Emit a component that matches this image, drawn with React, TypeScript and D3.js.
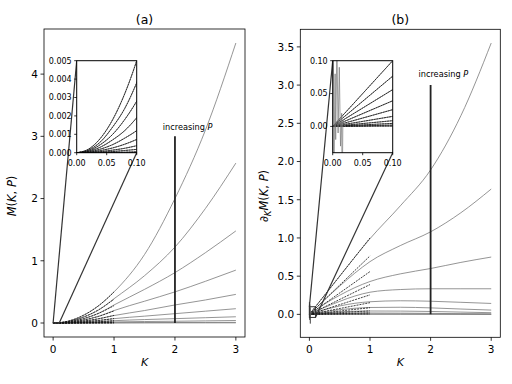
import React from "react";
import * as d3 from "d3";

const FONT = "'DejaVu Sans', sans-serif";

// ticks
const kTicks = [0, 1, 2, 3];
const yTicksA = [0, 1, 2, 3, 4];
const yTicksB = [0, 0.5, 1, 1.5, 2, 2.5, 3, 3.5];
const insetXTicks = [0, 0.05, 0.1];
const insetYTicksA = [0, 0.001, 0.002, 0.003, 0.004, 0.005];
const insetYTicksB = [0, 0.05, 0.1];

// (a) M(K,P) — grey curves
const kGreyA = [0, 0.1, 0.25, 0.5, 0.75, 1, 1.5, 2, 2.5, 3];
const greyA1 = [0, 0.005, 0.031, 0.125, 0.28, 0.5, 1.1, 2.0, 3.1, 4.5];
const greyA2 = [0, 0.0038, 0.024, 0.095, 0.21, 0.39, 0.76, 1.22, 1.84, 2.57];
const greyA3 = [0, 0.0028, 0.0175, 0.07, 0.157, 0.29, 0.54, 0.81, 1.13, 1.48];
const greyA4 = [0, 0.0019, 0.012, 0.047, 0.107, 0.2, 0.35, 0.5, 0.67, 0.85];
const greyA5 = [0, 0.0012, 0.0075, 0.03, 0.068, 0.12, 0.2, 0.29, 0.37, 0.46];
const greyA6 = [0, 0.0007, 0.0045, 0.018, 0.04, 0.07, 0.11, 0.15, 0.19, 0.23];
const greyA7 = [0, 0.0004, 0.0024, 0.0095, 0.021, 0.037, 0.055, 0.07, 0.085, 0.1];
const greyA8 = [0, 0.00018, 0.0011, 0.0045, 0.01, 0.017, 0.024, 0.028, 0.034, 0.04];
const greyA9 = [0, 0.00005, 0.0003, 0.0012, 0.0028, 0.005, 0.007, 0.008, 0.009, 0.01];
const greyA10 = [0, 0.00001, 0.00006, 0.00025, 0.0006, 0.001, 0.0015, 0.002, 0.0025, 0.003];
const greyA = [greyA1, greyA2, greyA3, greyA4, greyA5, greyA6, greyA7, greyA8, greyA9, greyA10];

// (a) small-K approximations (dashed, up to K = 1)
const kDashA = [0, 0.02, 0.04, 0.06, 0.08, 0.1, 0.25, 0.5, 0.75, 1];
const dashA1 = [0, 0.0002, 0.0008, 0.0018, 0.0032, 0.005, 0.031, 0.125, 0.281, 0.5];
const dashA2 = [0, 0.00015, 0.0006, 0.0014, 0.0024, 0.0038, 0.024, 0.096, 0.215, 0.382];
const dashA3 = [0, 0.00011, 0.00045, 0.001, 0.0018, 0.0028, 0.0174, 0.07, 0.157, 0.279];
const dashA4 = [0, 0.00008, 0.00031, 0.0007, 0.0012, 0.0019, 0.0121, 0.0485, 0.109, 0.194];
const dashA5 = [0, 0.00005, 0.0002, 0.00044, 0.00079, 0.0012, 0.0077, 0.031, 0.069, 0.123];
const dashA6 = [0, 0.00003, 0.00012, 0.00026, 0.00046, 0.00072, 0.0045, 0.018, 0.041, 0.072];
const dashA7 = [0, 0.000015, 0.00006, 0.00014, 0.00024, 0.00038, 0.0024, 0.0095, 0.021, 0.038];
const dashA8 = [0, 0.000007, 0.00003, 0.000065, 0.00012, 0.00018, 0.0011, 0.0045, 0.01, 0.018];
const dashA9 = [0, 0.000002, 0.000008, 0.000018, 0.00003, 0.00005, 0.0003, 0.0012, 0.0028, 0.005];
const dashA10 = [0, 0, 0.000002, 0.000004, 0.000006, 0.00001, 0.00006, 0.00025, 0.00056, 0.001];
const dashA = [dashA1, dashA2, dashA3, dashA4, dashA5, dashA6, dashA7, dashA8, dashA9, dashA10];

// (b) d_K M(K,P) — grey curves
const kGreyB = [0, 0.1, 0.25, 0.5, 0.75, 1, 1.5, 2, 2.5, 3];
const greyB1 = [0, 0.1, 0.25, 0.5, 0.75, 0.99, 1.42, 1.89, 2.6, 3.55];
const greyB2 = [0, 0.076, 0.19, 0.37, 0.54, 0.69, 0.9, 1.08, 1.33, 1.64];
const greyB3 = [0, 0.055, 0.135, 0.25, 0.35, 0.43, 0.53, 0.6, 0.68, 0.75];
const greyB4 = [0, 0.038, 0.09, 0.17, 0.24, 0.29, 0.325, 0.335, 0.335, 0.335];
const greyB5 = [0, 0.025, 0.06, 0.11, 0.145, 0.165, 0.178, 0.172, 0.158, 0.143];
const greyB6 = [0, 0.015, 0.035, 0.062, 0.08, 0.09, 0.093, 0.085, 0.07, 0.056];
const greyB7 = [0, 0.0087, 0.02, 0.034, 0.041, 0.044, 0.043, 0.038, 0.03, 0.022];
const greyB8 = [0, 0.0046, 0.01, 0.015, 0.017, 0.018, 0.016, 0.013, 0.009, 0.006];
const greyB9 = [0, 0.002, 0.004, 0.005, 0.0055, 0.0055, 0.005, 0.004, 0.003, 0.002];
const greyB10 = [0, 0.0005, 0.001, 0.0012, 0.0013, 0.0013, 0.0012, 0.001, 0.0008, 0.0005];
const greyB = [greyB1, greyB2, greyB3, greyB4, greyB5, greyB6, greyB7, greyB8, greyB9, greyB10];

// (b) linear small-K approximations: value at K = 0 and K = 1
const kDashB = [0, 1];
const dashEndB = [1.0, 0.765, 0.56, 0.39, 0.255, 0.153, 0.087, 0.046, 0.02, 0.005];

// (b) numerical noise near K = 0
const kNoiseB = [0, 0.001, 0.002, 0.004, 0.005, 0.007, 0.009, 0.011, 0.013, 0.015, 0.0157, 0.017, 0.02];
const vNoiseB = [0, 0.16, -0.07, 0.08, -0.02, 0.13, -0.01, 0.09, -0.03, 0.02, -0.12, 0.01, 0];

type Box = { l: number; r: number; t: number; b: number };

type PanelProps = {
  id: string;
  title: string;
  box: Box;
  yDomain: [number, number];
  yTicks: number[];
  yFmt: (v: number) => string;
  ylabel: React.ReactNode;
  ylabelX: number;
  ylabelY: number;
  kGrey: number[];
  grey: number[][];
  kDash: number[];
  dashed: number[][];
  inset: Box;
  insetY: [number, number];
  insetYTicks: number[];
  insetYFmt: (v: number) => string;
  noise?: { k: number[]; v: number[] };
};

function Panel(p: PanelProps) {
  const x = d3.scaleLinear().domain([-0.15, 3.15]).range([p.box.l, p.box.r]);
  const y = d3.scaleLinear().domain(p.yDomain).range([p.box.b, p.box.t]);
  const ix = d3.scaleLinear().domain([0, 0.1]).range([p.inset.l, p.inset.r]);
  const iy = d3.scaleLinear().domain(p.insetY).range([p.inset.b, p.inset.t]);

  const mk = (sx: d3.ScaleLinear<number, number>, sy: d3.ScaleLinear<number, number>) =>
    d3
      .line<[number, number]>()
      .x((d) => sx(d[0]))
      .y((d) => sy(d[1]))
      .curve(d3.curveMonotoneX);
  const mainLine = mk(x, y);
  const insetLine = mk(ix, iy);
  const pts = (ks: number[], vs: number[]) => ks.map((k, i) => [k, vs[i]] as [number, number]);

  const clipMain = `clip-${p.id}`;
  const clipInset = `clipi-${p.id}`;
  const cx = (p.box.l + p.box.r) / 2;

  // zoomed region corners in main coordinates
  const rx0 = x(0), rx1 = x(0.1);
  const ry0 = y(p.insetY[1]), ry1 = y(p.insetY[0]);

  return (
    <g>
      <defs>
        <clipPath id={clipMain}>
          <rect x={p.box.l} y={p.box.t} width={p.box.r - p.box.l} height={p.box.b - p.box.t} />
        </clipPath>
        <clipPath id={clipInset}>
          <rect x={p.inset.l} y={p.inset.t} width={p.inset.r - p.inset.l} height={p.inset.b - p.inset.t} />
        </clipPath>
      </defs>

      <text x={cx} y={24} textAnchor="middle" fontSize={12.5}>
        {p.title}
      </text>

      <g clipPath={`url(#${clipMain})`}>
        {p.grey.map((vs, i) => (
          <path key={"g" + i} d={mainLine(pts(p.kGrey, vs)) || ""} fill="none" stroke="#7a7a7a" strokeWidth={0.8} />
        ))}
        {p.dashed.map((vs, i) => (
          <path
            key={"d" + i}
            d={mainLine(pts(p.kDash, vs)) || ""}
            fill="none"
            stroke="#111"
            strokeWidth={0.8}
            strokeDasharray="2,1"
          />
        ))}
        {p.noise && (
          <path d={d3.line<[number, number]>().x((d) => x(d[0])).y((d) => y(d[1]))(pts(p.noise.k, p.noise.v)) || ""} fill="none" stroke="#555" strokeWidth={0.8} />
        )}
        <line x1={x(2)} x2={x(2)} y1={y(0)} y2={y(3)} stroke="#222" strokeWidth={1.8} />
        <text x={x(1.8)} y={y(3.1)} fontSize={8.2}>
          increasing <tspan fontStyle="italic">P</tspan>
        </text>
        <rect x={rx0} y={ry0} width={rx1 - rx0} height={Math.max(ry1 - ry0, 0.5)} fill="none" stroke="#333" strokeWidth={1} />
        <line x1={rx0} y1={ry0} x2={p.inset.l} y2={p.inset.t} stroke="#333" strokeWidth={1.2} />
        <line x1={rx1} y1={ry1} x2={p.inset.r} y2={p.inset.b} stroke="#333" strokeWidth={1.2} />
      </g>

      {/* main spines */}
      <rect x={p.box.l} y={p.box.t} width={p.box.r - p.box.l} height={p.box.b - p.box.t} fill="none" stroke="#000" strokeWidth={0.8} />

      {/* main x axis */}
      {kTicks.map((t) => (
        <g key={"xt" + t}>
          <line x1={x(t)} x2={x(t)} y1={p.box.b} y2={p.box.b + 3.5} stroke="#000" strokeWidth={0.8} />
          <text x={x(t)} y={p.box.b + 15.5} textAnchor="middle" fontSize={10.5}>
            {t}
          </text>
        </g>
      ))}
      <text x={cx} y={p.box.b + 29} textAnchor="middle" fontSize={11} fontStyle="italic">
        K
      </text>

      {/* main y axis */}
      {p.yTicks.map((t) => (
        <g key={"yt" + t}>
          <line x1={p.box.l - 3.5} x2={p.box.l} y1={y(t)} y2={y(t)} stroke="#000" strokeWidth={0.8} />
          <text x={p.box.l - 6} y={y(t)} dy="0.36em" textAnchor="end" fontSize={10.5}>
            {p.yFmt(t)}
          </text>
        </g>
      ))}
      <text transform={`translate(${p.ylabelX},${p.ylabelY}) rotate(-90)`} textAnchor="middle" fontSize={11.5}>
        {p.ylabel}
      </text>

      {/* inset */}
      <rect x={p.inset.l} y={p.inset.t} width={p.inset.r - p.inset.l} height={p.inset.b - p.inset.t} fill="#fff" />
      <g clipPath={`url(#${clipInset})`}>
        {p.dashed.map((vs, i) => (
          <path key={"ig" + i} d={insetLine(pts(p.kDash, vs)) || ""} fill="none" stroke="#7a7a7a" strokeWidth={0.8} />
        ))}
        {p.dashed.map((vs, i) => (
          <path key={"id" + i} d={insetLine(pts(p.kDash, vs)) || ""} fill="none" stroke="#111" strokeWidth={0.8} strokeDasharray="2,0.6" />
        ))}
        {p.noise && (
          <path d={d3.line<[number, number]>().x((d) => ix(d[0])).y((d) => iy(d[1]))(pts(p.noise.k, p.noise.v)) || ""} fill="none" stroke="#777" strokeWidth={0.7} />
        )}
      </g>
      <rect x={p.inset.l} y={p.inset.t} width={p.inset.r - p.inset.l} height={p.inset.b - p.inset.t} fill="none" stroke="#000" strokeWidth={1} />
      {insetXTicks.map((t) => (
        <g key={"ixt" + t}>
          <line x1={ix(t)} x2={ix(t)} y1={p.inset.b} y2={p.inset.b + 2.5} stroke="#000" strokeWidth={0.8} />
          <text x={ix(t)} y={p.inset.b + 13} textAnchor="middle" fontSize={8}>
            {t.toFixed(2)}
          </text>
        </g>
      ))}
      {p.insetYTicks.map((t) => (
        <g key={"iyt" + t}>
          <line x1={p.inset.l - 2.5} x2={p.inset.l} y1={iy(t)} y2={iy(t)} stroke="#000" strokeWidth={0.8} />
          <text x={p.inset.l - 5} y={iy(t)} dy="0.36em" textAnchor="end" fontSize={8}>
            {p.insetYFmt(t)}
          </text>
        </g>
      ))}
    </g>
  );
}

export default function App() {
  const dashB = dashEndB.map((e) => [0, e]);
  return (
    <svg
      width={512}
      height={384}
      style={{ position: "absolute", left: 0, top: 0, background: "#fff" }}
      fontFamily={FONT}
    >
      <rect width={512} height={384} fill="#fff" />
      <Panel
        id="a"
        title="(a)"
        box={{ l: 44, r: 245, t: 29, b: 337 }}
        yDomain={[-0.225, 4.725]}
        yTicks={yTicksA}
        yFmt={(v) => String(v)}
        ylabel={
          <>
            <tspan fontStyle="italic">M</tspan>(<tspan fontStyle="italic">K</tspan>, <tspan fontStyle="italic">P</tspan>)
          </>
        }
        ylabelX={16}
        ylabelY={196}
        kGrey={kGreyA}
        grey={greyA}
        kDash={kDashA}
        dashed={dashA}
        inset={{ l: 76.7, r: 136.7, t: 60.7, b: 152.7 }}
        insetY={[0, 0.005]}
        insetYTicks={insetYTicksA}
        insetYFmt={(v) => v.toFixed(3)}
      />
      <Panel
        id="b"
        title="(b)"
        box={{ l: 300.3, r: 500.3, t: 29.3, b: 337.3 }}
        yDomain={[-0.3, 3.73]}
        yTicks={yTicksB}
        yFmt={(v) => v.toFixed(1)}
        ylabel={
          <>
            ∂<tspan fontSize={8.5} fontStyle="italic" dy={2.5}>K</tspan>
            <tspan fontStyle="italic" dy={-2.5}>M</tspan>(<tspan fontStyle="italic">K</tspan>, <tspan fontStyle="italic">P</tspan>)
          </>
        }
        ylabelX={268}
        ylabelY={196}
        kGrey={kGreyB}
        grey={greyB}
        kDash={kDashB}
        dashed={dashB}
        inset={{ l: 332.7, r: 392.7, t: 60.7, b: 152.7 }}
        insetY={[-0.04, 0.1]}
        insetYTicks={insetYTicksB}
        insetYFmt={(v) => v.toFixed(2)}
        noise={{ k: kNoiseB, v: vNoiseB }}
      />
    </svg>
  );
}
